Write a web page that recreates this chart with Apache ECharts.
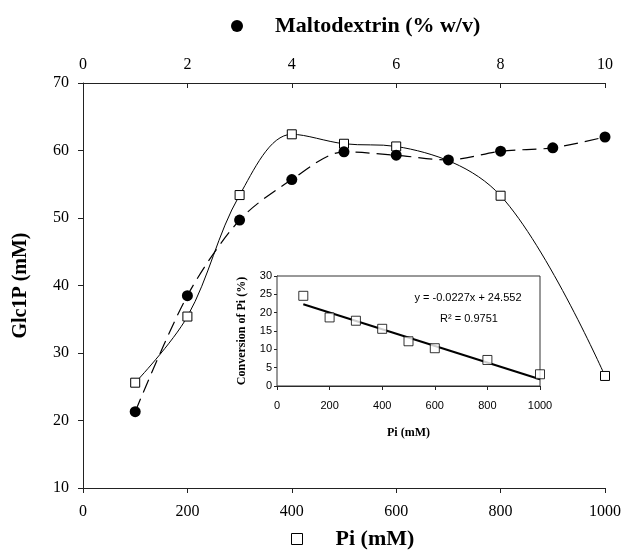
<!DOCTYPE html>
<html>
<head>
<meta charset="utf-8">
<script src="https://cdn.jsdelivr.net/npm/echarts@6/dist/echarts.min.js"></script>
<style>
  html, body { margin: 0; padding: 0; background: #fff; }
  #chart { width: 624px; height: 552px; }
</style>
</head>
<body>
<div id="chart"></div>
<script>
// main plot: Glc1P (mM) against Pi (bottom axis) and maltodextrin (top axis)
var piValues = [100, 200, 300, 400, 500, 600, 800, 1000];
var piGlc1P = [25.6, 35.4, 53.4, 62.4, 61.0, 60.6, 53.3, 26.6];
var maltoValues = [1, 2, 3, 4, 5, 6, 7, 8, 9, 10];
var maltoGlc1P = [21.3, 38.5, 49.7, 55.7, 59.8, 59.3, 58.6, 59.9, 60.4, 62.0];

// inset: conversion of Pi (%) with its linear trend
var insetPi = [100, 200, 300, 400, 500, 600, 800, 1000];
var insetConversion = [24.6, 18.7, 17.8, 15.6, 12.2, 10.3, 7.1, 3.2];
var trendX = [100, 1000];
var trendY = [22.28, 1.85];

var serif = '"Liberation Serif", "Times New Roman", serif';
var sans = '"Liberation Sans", Arial, sans-serif';

function zip(xs, ys) {
  return xs.map(function (x, i) { return [x, ys[i]]; });
}
// plain numbers, no thousands separator
function plain(v) { return String(v); }

var chart = echarts.init(document.getElementById('chart'));

var axisLine = { lineStyle: { color: '#222', width: 1 } };
var axisTick = { length: 5, lineStyle: { color: '#222' } };

chart.setOption({
  animation: false,
  backgroundColor: '#fff',
  grid: [
    { left: 83, right: 19, top: 83, bottom: 64 },
    { left: 277, top: 276, width: 263, height: 110, show: true, backgroundColor: '#fff', borderColor: '#333', borderWidth: 1, z: 5 }
  ],
  legend: [
    {
      data: ['Maltodextrin (% w/v)'],
      top: 10, left: 226,
      icon: 'circle', itemWidth: 12, itemHeight: 12,
      textStyle: { fontFamily: serif, fontWeight: 'bold', fontSize: 22, color: '#000', padding: [0, 0, 0, 27] }
    },
    {
      data: [{ name: 'Pi (mM)', icon: 'rect', itemStyle: { color: '#fff', borderColor: '#000', borderWidth: 1 } }],
      top: 523, left: 286,
      itemWidth: 11, itemHeight: 11,
      textStyle: { fontFamily: serif, fontWeight: 'bold', fontSize: 22, color: '#000', padding: [0, 0, 0, 28] }
    }
  ],
  xAxis: [
    {
      type: 'value', gridIndex: 0, position: 'bottom',
      min: 0, max: 1000, interval: 200,
      axisLine: axisLine, axisTick: axisTick, splitLine: { show: false },
      axisLabel: { fontFamily: serif, fontSize: 16, color: '#000', margin: 16, formatter: plain }
    },
    {
      type: 'value', gridIndex: 0, position: 'top',
      min: 0, max: 10, interval: 2,
      axisLine: axisLine, axisTick: { inside: true, length: 5, lineStyle: { color: '#222' } }, splitLine: { show: false },
      axisLabel: { fontFamily: serif, fontSize: 16, color: '#000', margin: 10 }
    },
    {
      type: 'value', gridIndex: 1,
      min: 0, max: 1000, interval: 200,
      name: 'Pi (mM)', nameLocation: 'middle', nameGap: 41,
      nameTextStyle: { fontFamily: serif, fontWeight: 'bold', fontSize: 12, color: '#000' },
      axisLine: axisLine, axisTick: { length: 4, lineStyle: { color: '#222' } }, splitLine: { show: false },
      axisLabel: { fontFamily: sans, fontSize: 11, color: '#000', margin: 14, formatter: plain }
    }
  ],
  yAxis: [
    {
      type: 'value', gridIndex: 0,
      min: 10, max: 70, interval: 10,
      name: 'Glc1P (mM)', nameLocation: 'middle', nameGap: 52,
      nameTextStyle: { fontFamily: serif, fontWeight: 'bold', fontSize: 20, color: '#000' },
      axisLine: axisLine, axisTick: axisTick, splitLine: { show: false },
      axisLabel: { fontFamily: serif, fontSize: 16, color: '#000', margin: 14 }
    },
    {
      type: 'value', gridIndex: 1,
      min: 0, max: 30, interval: 5,
      name: 'Conversion of Pi (%)', nameLocation: 'middle', nameGap: 29,
      nameTextStyle: { fontFamily: serif, fontWeight: 'bold', fontSize: 12, color: '#000' },
      axisLine: axisLine, axisTick: { length: 3, lineStyle: { color: '#222' } }, splitLine: { show: false },
      axisLabel: { fontFamily: sans, fontSize: 11, color: '#000', margin: 5 }
    }
  ],
  series: [
    {
      name: 'Pi (mM)', type: 'line', xAxisIndex: 0, yAxisIndex: 0,
      data: zip(piValues, piGlc1P),
      smooth: 0.35,
      symbol: 'rect', symbolSize: 9,
      lineStyle: { color: '#000', width: 1 },
      itemStyle: { color: '#fff', borderColor: '#000', borderWidth: 1 },
      z: 3
    },
    {
      name: 'Maltodextrin (% w/v)', type: 'line', xAxisIndex: 1, yAxisIndex: 0,
      data: zip(maltoValues, maltoGlc1P),
      smooth: 0.3,
      symbol: 'circle', symbolSize: 11,
      lineStyle: { color: '#000', width: 1.2, type: [14, 7] },
      itemStyle: { color: '#000' },
      z: 4
    },
    {
      name: 'trend', type: 'line', xAxisIndex: 2, yAxisIndex: 1,
      data: zip(trendX, trendY),
      symbol: 'none',
      lineStyle: { color: '#000', width: 2 },
      z: 6
    },
    {
      name: 'conversion', type: 'scatter', xAxisIndex: 2, yAxisIndex: 1,
      data: zip(insetPi, insetConversion),
      symbol: 'rect', symbolSize: 9,
      itemStyle: { color: '#fff', borderColor: '#000', borderWidth: 1 },
      z: 7
    }
  ],
  graphic: [
    { type: 'text', x: 468, y: 298, z: 100,
      style: { text: 'y = -0.0227x + 24.552', font: '11px ' + sans, fill: '#000', align: 'center', verticalAlign: 'middle' } },
    { type: 'text', x: 469, y: 319, z: 100,
      style: { text: 'R² = 0.9751', font: '11px ' + sans, fill: '#000', align: 'center', verticalAlign: 'middle' } }
  ]
});
</script>
</body>
</html>
